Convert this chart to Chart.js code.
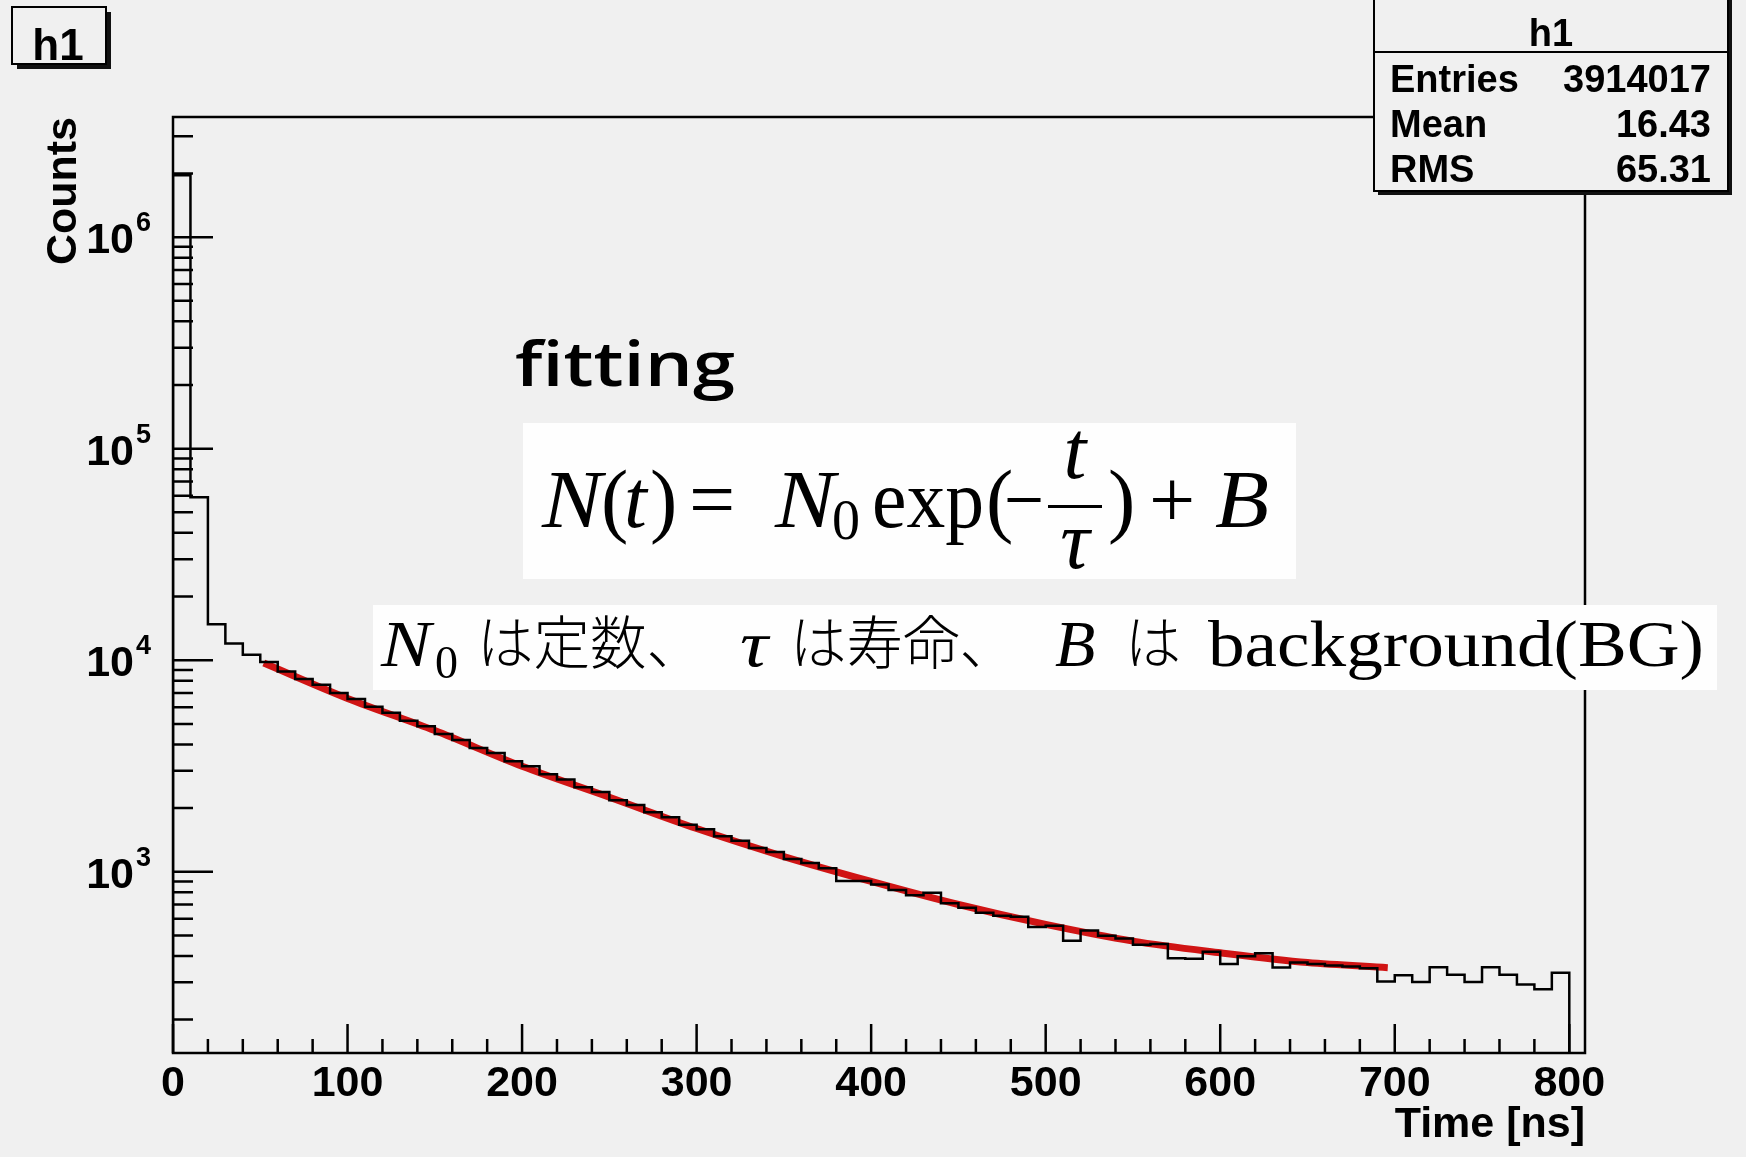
<!DOCTYPE html>
<html>
<head>
<meta charset="utf-8">
<script src="https://cdn.jsdelivr.net/npm/chart.js@4.4.0/dist/chart.umd.min.js"></script>
<style>
  html, body { margin: 0; padding: 0; background: #f0f0f0; }
  canvas { display: block; }
</style>
</head>
<body>
<canvas id="h1" width="1746" height="1157"></canvas>
<script>
// decay-time histogram, 10 ns bins (low edges)
const binLow = [
    0,  10,  20,  30,  40,  50,  60,  70,  80,  90,
  100, 110, 120, 130, 140, 150, 160, 170, 180, 190,
  200, 210, 220, 230, 240, 250, 260, 270, 280, 290,
  300, 310, 320, 330, 340, 350, 360, 370, 380, 390,
  400, 410, 420, 430, 440, 450, 460, 470, 480, 490,
  500, 510, 520, 530, 540, 550, 560, 570, 580, 590,
  600, 610, 620, 630, 640, 650, 660, 670, 680, 690,
  700, 710, 720, 730, 740, 750, 760, 770, 780, 790
];
const binHigh = 800;

const counts = [
  1960000, 59000, 14800, 12000, 10600, 9800, 8850, 8150, 7650, 7000,
  6560, 6020, 5650, 5180, 4870, 4480, 4200, 3850, 3640, 3330,
  3150, 2890, 2730, 2510, 2380, 2180, 2070, 1910, 1810, 1670,
  1590, 1470, 1400, 1295, 1240, 1150, 1100, 1040, 905, 905,
  870, 820, 775, 795, 710, 675, 640, 620, 612, 548,
  556, 472, 528, 498, 483, 452, 455, 390, 388, 418,
  366, 398, 412, 353, 372, 366, 360, 356, 350, 303,
  324, 301, 354, 326, 301, 354, 326, 293, 278, 333
];

// fitted curve N0 exp(-t/tau) + B, sampled along the fit range
const fitTime   = [52, 100, 150, 200, 250, 300, 350, 400, 450, 500, 550, 600, 650, 696];
const fitCounts = [9700, 6600, 4650, 3150, 2250, 1600, 1180, 900, 700, 564, 470, 414, 372, 352];

const xTickLabels = [0, 100, 200, 300, 400, 500, 600, 700, 800];
const yDecades = [3, 4, 5, 6];
const statRows = [['Entries', '3914017'], ['Mean', '16.43'], ['RMS', '65.31']];

const X_MIN = 0, X_MAX = 809;
const Y_MIN = 139, Y_MAX = 3.7e6;

const SANS = '"Liberation Sans", Arial, sans-serif';
const SERIF = '"Liberation Serif", "Times New Roman", serif';
const CJK = '"Noto Sans CJK JP", sans-serif';
const BG = '#f0f0f0';

const histPoints = [{ x: binLow[0], y: Y_MIN }];
binLow.forEach((x, i) => histPoints.push({ x, y: counts[i] }));
histPoints.push({ x: binHigh, y: counts[counts.length - 1] });
histPoints.push({ x: binHigh, y: Y_MIN });

const fitPoints = fitTime.map((t, i) => ({ x: t, y: fitCounts[i] }));

// text helper: optional horizontal squeeze to a given width
function put(ctx, str, x, y, font, opt = {}) {
  ctx.save();
  ctx.font = font;
  ctx.fillStyle = opt.color || '#000';
  ctx.textBaseline = 'alphabetic';
  ctx.textAlign = 'left';
  const w = ctx.measureText(str).width;
  const sx = opt.width ? opt.width / w : 1;
  const drawn = w * sx;
  let left = x;
  if (opt.align === 'right') left = x - drawn;
  if (opt.align === 'center') left = x - drawn / 2;
  ctx.translate(left, y);
  ctx.scale(sx, 1);
  ctx.fillText(str, 0, 0);
  ctx.restore();
  return drawn;
}

function pave(ctx, x0, y0, x1, y1, fill, shadow) {
  ctx.save();
  if (shadow) {
    ctx.fillStyle = '#111';
    ctx.fillRect(x0 + shadow, y0 + shadow, x1 - x0, y1 - y0);
  }
  ctx.fillStyle = fill;
  ctx.fillRect(x0, y0, x1 - x0, y1 - y0);
  ctx.strokeStyle = '#000';
  ctx.lineWidth = 2;
  ctx.strokeRect(x0, y0, x1 - x0, y1 - y0);
  ctx.restore();
}

const frameAndAxes = {
  id: 'frameAndAxes',
  afterDatasetsDraw(chart) {
    const { ctx, chartArea: a, scales: { x, y } } = chart;
    ctx.save();
    ctx.strokeStyle = '#000';
    ctx.lineWidth = 2.5;
    ctx.strokeRect(a.left, a.top, a.right - a.left, a.bottom - a.top);

    // ticks point into the frame
    ctx.beginPath();
    for (let v = X_MIN; v <= binHigh; v += 20) {
      const px = x.getPixelForValue(v);
      const len = v % 100 === 0 ? 29 : 14;
      ctx.moveTo(px, a.bottom);
      ctx.lineTo(px, a.bottom - len);
    }
    for (let n = 2; n <= 6; n++) {
      for (let m = 1; m <= 9; m++) {
        const v = m * Math.pow(10, n);
        if (v < Y_MIN || v > Y_MAX) continue;
        const py = y.getPixelForValue(v);
        ctx.moveTo(a.left, py);
        ctx.lineTo(a.left + (m === 1 ? 40 : 20), py);
      }
    }
    ctx.stroke();
    ctx.restore();

    xTickLabels.forEach(v => {
      put(ctx, String(v), x.getPixelForValue(v), a.bottom + 43, 'bold 43px ' + SANS, { align: 'center' });
    });
    yDecades.forEach(n => {
      const py = y.getPixelForValue(Math.pow(10, n));
      put(ctx, '10', 134, py + 16, 'bold 43px ' + SANS, { align: 'right' });
      put(ctx, String(n), 136, py - 6, 'bold 27px ' + SANS);
    });

    // axis titles
    put(ctx, 'Time [ns]', a.right, 1137, 'bold 43px ' + SANS, { align: 'right' });
    ctx.save();
    ctx.translate(76, a.top);
    ctx.rotate(-Math.PI / 2);
    put(ctx, 'Counts', 0, 0, 'bold 43px ' + SANS, { align: 'right' });
    ctx.restore();
  }
};

const panels = {
  id: 'panels',
  afterDraw(chart) {
    const ctx = chart.ctx;

    // title pave
    pave(ctx, 12, 7, 106, 64, BG, 5);
    put(ctx, 'h1', 58, 60, 'bold 44px ' + SANS, { align: 'center' });

    // statistics pave
    pave(ctx, 1374, -6, 1728, 191, BG, 4);
    ctx.save();
    ctx.strokeStyle = '#000';
    ctx.lineWidth = 2;
    ctx.beginPath();
    ctx.moveTo(1374, 52);
    ctx.lineTo(1728, 52);
    ctx.stroke();
    ctx.restore();
    put(ctx, 'h1', 1551, 46, 'bold 38px ' + SANS, { align: 'center' });
    statRows.forEach(([k, v], i) => {
      const base = 92 + i * 45;
      put(ctx, k, 1390, base, 'bold 38px ' + SANS);
      put(ctx, v, 1711, base, 'bold 38px ' + SANS, { align: 'right' });
    });

    // "fitting" heading
    put(ctx, 'fitting', 515, 386, '600 62px "Open Sans", "Noto Sans", sans-serif', { width: 220 });

    // fit function
    ctx.save();
    ctx.fillStyle = '#fefefe';
    ctx.fillRect(523, 423, 773, 156);
    ctx.restore();
    const F = 82, base = 527;
    const it = 'italic ' + F + 'px ' + SERIF;
    const rm = F + 'px ' + SERIF;
    put(ctx, 'N', 542, base, it, { width: 60 });
    put(ctx, '(', 601, base, rm);
    put(ctx, 't', 624, base, it);
    put(ctx, ')', 650, base, rm);
    put(ctx, '=', 712, base, rm, { align: 'center' });
    put(ctx, 'N', 775, base, it, { width: 60 });
    put(ctx, '0', 832, base + 12, '56px ' + SERIF);
    put(ctx, 'exp', 872, base, rm, { width: 112 });
    put(ctx, '(', 986, base, rm);
    put(ctx, '\u2212', 1004, base, rm, { width: 40 });
    ctx.save();
    ctx.fillStyle = '#000';
    ctx.fillRect(1048, 505, 54, 3);
    ctx.restore();
    put(ctx, 't', 1075, 478, it, { align: 'center' });
    put(ctx, '\u03c4', 1075, 568, it, { align: 'center' });
    put(ctx, ')', 1108, base, rm);
    put(ctx, '+', 1172, base, rm, { align: 'center' });
    put(ctx, 'B', 1215, base, it, { width: 54 });

    // parameter description (covers the frame edge)
    ctx.save();
    ctx.fillStyle = '#fefefe';
    ctx.fillRect(373, 605, 1344, 85);
    ctx.restore();
    const jb = 666;
    const jit = 'italic 66px ' + SERIF;
    const jrm = '66px ' + SERIF;
    const jp = '300 58px ' + CJK;
    put(ctx, 'N', 381, jb, jit, { width: 50 });
    put(ctx, '0', 435, jb + 12, '46px ' + SERIF);
    put(ctx, '\u306f\u5b9a\u6570\u3001', 477, jb - 2, jp, { width: 226 });
    put(ctx, '\u03c4', 740, jb, jit, { width: 28 });
    put(ctx, '\u306f\u5bff\u547d\u3001', 790, jb - 2, jp, { width: 226 });
    put(ctx, 'B', 1055, jb, jit);
    put(ctx, '\u306f', 1125, jb - 2, jp, { width: 56 });
    put(ctx, 'background(BG)', 1208, jb, jrm, { width: 496 });
  }
};

new Chart(document.getElementById('h1'), {
  type: 'line',
  data: {
    datasets: [
      {
        label: 'h1',
        data: histPoints,
        stepped: 'before',
        borderColor: '#000',
        borderWidth: 2.5,
        pointRadius: 0,
        fill: false
      },
      {
        label: 'fit',
        data: fitPoints,
        borderColor: '#d01414',
        borderWidth: 7,
        cubicInterpolationMode: 'monotone',
        pointRadius: 0,
        fill: false
      }
    ]
  },
  options: {
    responsive: false,
    animation: false,
    devicePixelRatio: 1,
    layout: { padding: { left: 173, top: 117, right: 161, bottom: 104 } },
    plugins: { legend: { display: false }, tooltip: { enabled: false } },
    scales: {
      x: { type: 'linear', min: X_MIN, max: X_MAX, display: false },
      y: { type: 'logarithmic', min: Y_MIN, max: Y_MAX, display: false }
    }
  },
  plugins: [frameAndAxes, panels]
});
</script>
</body>
</html>
